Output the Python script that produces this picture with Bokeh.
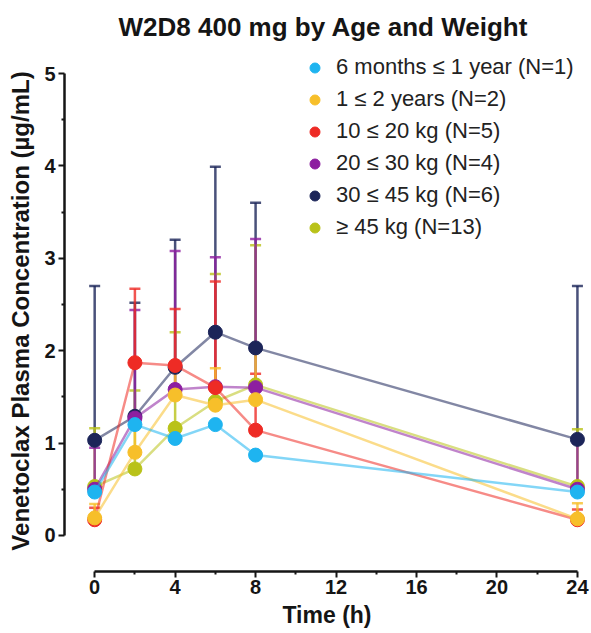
from bokeh.plotting import figure
from bokeh.models import (ColumnDataSource, Whisker, TeeHead, FixedTicker,
                          Range1d, Legend, LegendItem)
from bokeh.embed import file_html
from bokeh.resources import INLINE

# ---- data ----
times = [0, 2, 4, 6, 8, 24]

groups = ["6 months \u2264 1 year (N=1)", "1 \u2264 2 years (N=2)",
          "10 \u2264 20 kg (N=5)", "20 \u2264 30 kg (N=4)",
          "30 \u2264 45 kg (N=6)", "\u2265 45 kg (N=13)"]
colors = ["#1eb4f0", "#f7bf2a", "#ee2b25", "#8d1fa0", "#1c2559", "#b9c219"]

infant_mean = [0.47, 1.20, 1.05, 1.20, 0.87, 0.47]
infant_upper = None
toddler_mean = [0.19, 0.90, 1.52, 1.41, 1.47, 0.18]
toddler_upper = [0.34, 1.20, 1.85, 1.81, 2.00, 0.35]
kg10_mean = [0.17, 1.87, 1.84, 1.60, 1.14, 0.17]
kg10_upper = [0.30, 2.67, 2.45, 2.75, 1.75, 0.28]
kg20_mean = [0.50, 1.27, 1.58, 1.61, 1.60, 0.50]
kg20_upper = [0.95, 2.44, 3.08, 3.01, 3.21, 1.00]
kg30_mean = [1.03, 1.29, 1.82, 2.20, 2.03, 1.04]
kg30_upper = [2.70, 2.52, 3.20, 3.99, 3.60, 2.70]
kg45_mean = [0.53, 0.72, 1.16, 1.45, 1.63, 0.53]
kg45_upper = [1.16, 1.57, 2.20, 2.83, 3.14, 1.15]

means = [infant_mean, toddler_mean, kg10_mean, kg20_mean, kg30_mean, kg45_mean]
uppers = [infant_upper, toddler_upper, kg10_upper, kg20_upper, kg30_upper, kg45_upper]

x_ticks = [0, 4, 8, 12, 16, 20, 24]
x_minor = [2, 6, 10, 14, 18, 22]
y_ticks = [0, 1, 2, 3, 4, 5]
y_minor = [0.5, 1.5, 2.5, 3.5, 4.5]

FONT = "Liberation Sans"
INK = "#151515"

p = figure(width=591, height=633,
           x_range=Range1d(-1.5, 24.6), y_range=Range1d(-0.39, 5.249),
           output_backend="svg", toolbar_location=None,
           min_border_left=64, min_border_right=2,
           min_border_top=50, min_border_bottom=62)
p.outline_line_color = None
p.xgrid.visible = False
p.ygrid.visible = False

p.title.text = "W2D8 400 mg by Age and Weight"
p.title.align = "left"
p.title.offset = 54
p.title.text_font = FONT
p.title.text_font_size = "26px"
p.title.text_font_style = "bold"
p.title.text_color = INK
p.title.standoff = 17

for ax in (p.xaxis[0], p.yaxis[0]):
    ax.axis_line_width = 2.5
    ax.axis_line_color = INK
    ax.major_tick_line_width = 2
    ax.minor_tick_line_width = 2
    ax.major_tick_line_color = INK
    ax.minor_tick_line_color = INK
    ax.major_tick_in = 0
    ax.major_tick_out = 6
    ax.minor_tick_in = 0
    ax.minor_tick_out = 3
    ax.major_label_text_font = FONT
    ax.major_label_text_font_size = "20px"
    ax.major_label_text_font_style = "bold"
    ax.major_label_text_color = INK
    ax.axis_label_text_font = FONT
    ax.axis_label_text_font_style = "bold"
    ax.axis_label_text_color = INK

xa = p.xaxis[0]
xa.ticker = FixedTicker(ticks=x_ticks, minor_ticks=x_minor)
xa.bounds = (0, 24)
xa.axis_label = "Time (h)"
xa.axis_label_text_font_size = "23px"
xa.major_label_standoff = 2
xa.axis_label_standoff = 5

ya = p.yaxis[0]
ya.ticker = FixedTicker(ticks=y_ticks, minor_ticks=y_minor)
ya.bounds = (0, 5)
ya.axis_label = "Venetoclax Plasma Concentration (\u00b5g/mL)"
ya.axis_label_text_font_size = "24px"
ya.major_label_standoff = 3
ya.axis_label_standoff = 7

# draw order (back to front) as seen in the reference
order = [4, 5, 3, 2, 1, 0]
scatter_r = {}
for i in order:
    c = colors[i]
    if uppers[i] is not None:
        src = ColumnDataSource(dict(t=times, m=means[i], u=uppers[i]))
        w = Whisker(source=src, base="t", lower="m", upper="u",
                    line_color=c, line_width=2.5, line_alpha=0.8,
                    upper_head=TeeHead(size=11, line_color=c, line_width=2.5,
                                       line_alpha=0.8),
                    lower_head=None, level="underlay")
        p.add_layout(w)
    p.line(times, means[i], line_color=c, line_width=2.5, line_alpha=0.55)
    scatter_r[i] = p.scatter(times, means[i], size=14, fill_color=c,
                             line_color=c, line_width=1)

legend = Legend(items=[LegendItem(label=groups[i], renderers=[scatter_r[i]])
                       for i in range(len(groups))],
                location=(238, 331), orientation="vertical",
                glyph_width=25, glyph_height=25, label_height=25,
                spacing=6, padding=0, margin=0, label_standoff=9,
                label_text_font=FONT, label_text_font_size="22px",
                label_text_color="#222222",
                border_line_alpha=0, background_fill_alpha=0)
p.add_layout(legend)

open("out.html", "w").write(file_html(p, INLINE))
